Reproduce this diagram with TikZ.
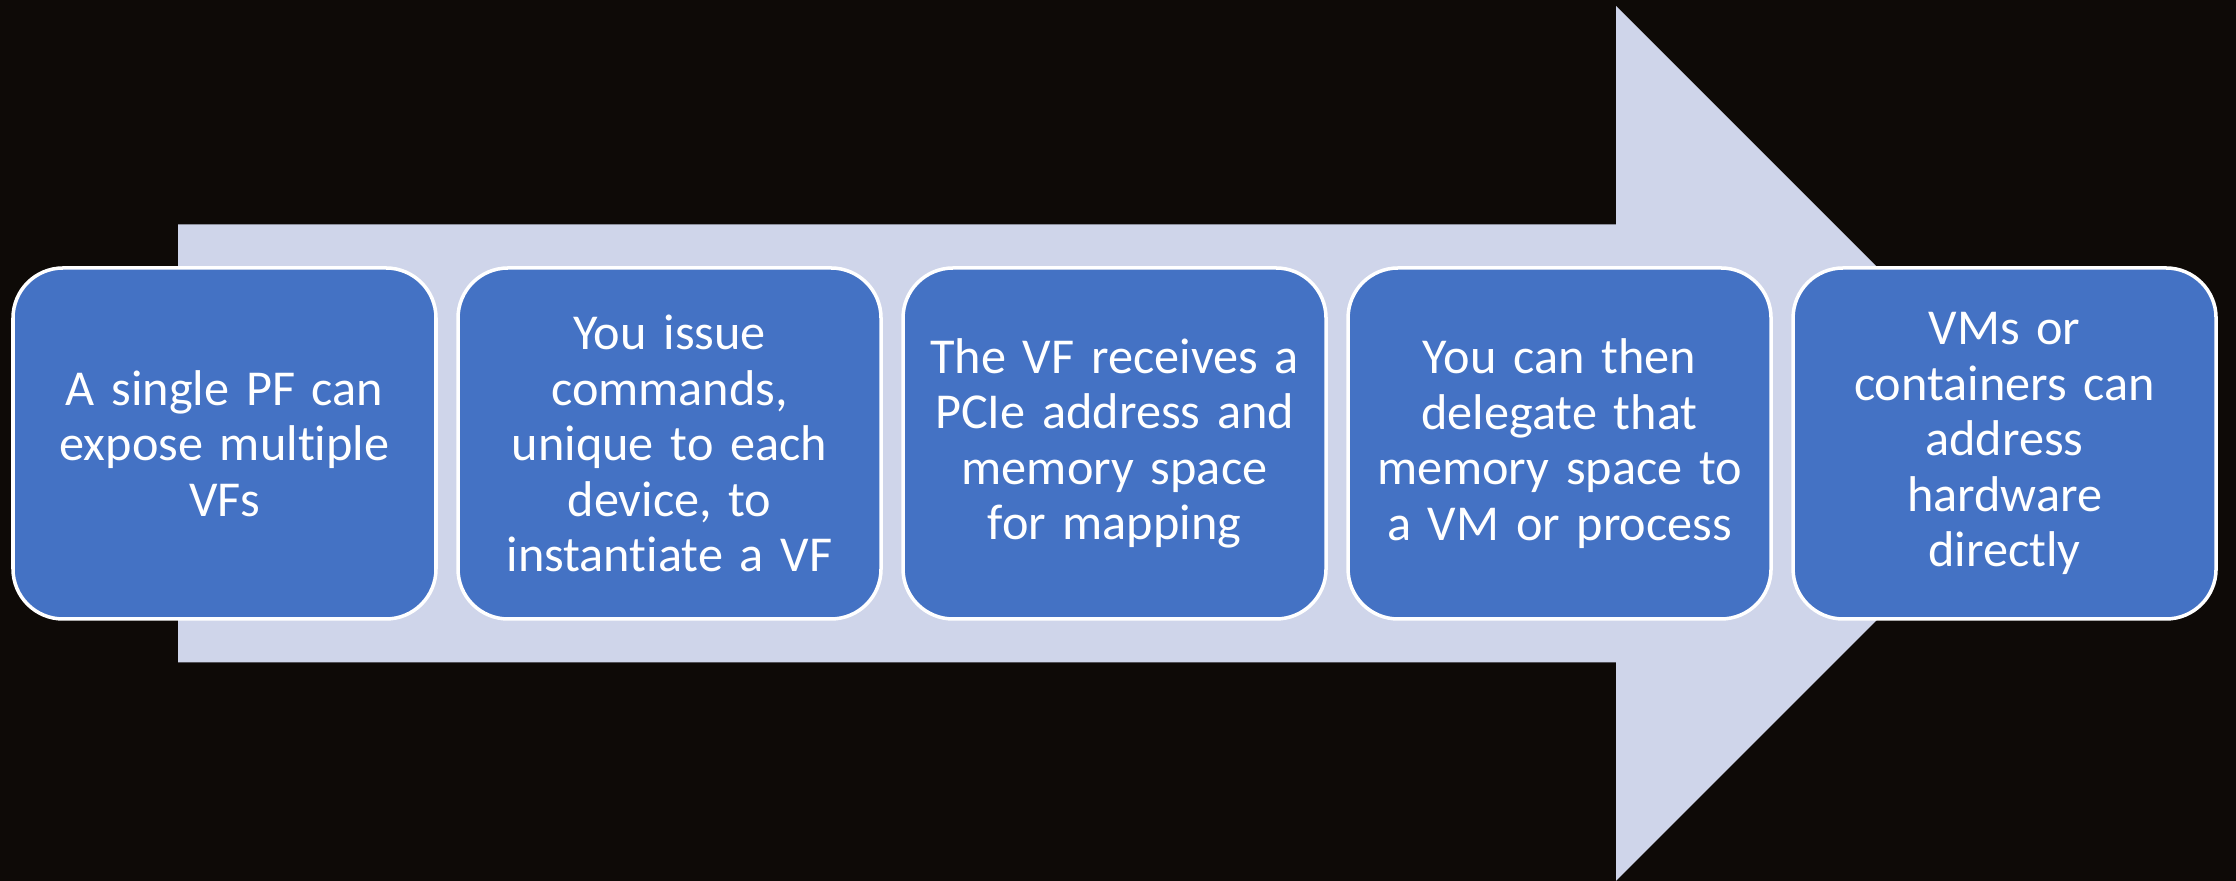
\documentclass[tikz,border=0pt]{standalone}
\usepackage{fontspec}
\setmainfont{Carlito}[Ligatures=NoCommon]
\usetikzlibrary{positioning}
\definecolor{bgdark}{RGB}{14,10,7}
\definecolor{arrowlav}{RGB}{207,213,234}
\definecolor{boxblue}{RGB}{68,114,196}

\begin{document}
\begin{tikzpicture}[
    stepbox/.style={rectangle, rounded corners=0.5cm, draw=white, line width=1pt,
        fill=boxblue, text=white, minimum width=4.23cm, minimum height=3.51cm,
        text width=4.1cm, align=center, inner sep=0pt,
        font=\fontsize{14.3}{15.8}\selectfont}
]
    % background
    \fill[bgdark] (0,0) rectangle (22.36,8.81);
    \useasboundingbox (0,0) rectangle (22.36,8.81);

    % big arrow
    \fill[arrowlav] (1.78,2.185) -- (1.78,6.565) -- (16.16,6.565) -- (16.16,8.75)
        -- (20.535,4.375) -- (16.16,0) -- (16.16,2.185) -- cycle;

    % steps
    \node[stepbox] (s1) at (2.245,4.375) {A single PF can\\expose multiple\\VFs};
    \node[stepbox, right=0.185cm of s1] (s2) {You issue\\commands,\\unique to each\\device, to\\instantiate a VF};
    \node[stepbox, right=0.185cm of s2] (s3) {The VF receives a\\PCIe address and\\memory space\\for mapping};
    \node[stepbox, right=0.185cm of s3] (s4) {You can then\\delegate that\\memory space to\\a VM or process};
    \node[stepbox, right=0.185cm of s4] (s5) {VMs or\\containers can\\address\\hardware\\directly};
\end{tikzpicture}
\end{document}
